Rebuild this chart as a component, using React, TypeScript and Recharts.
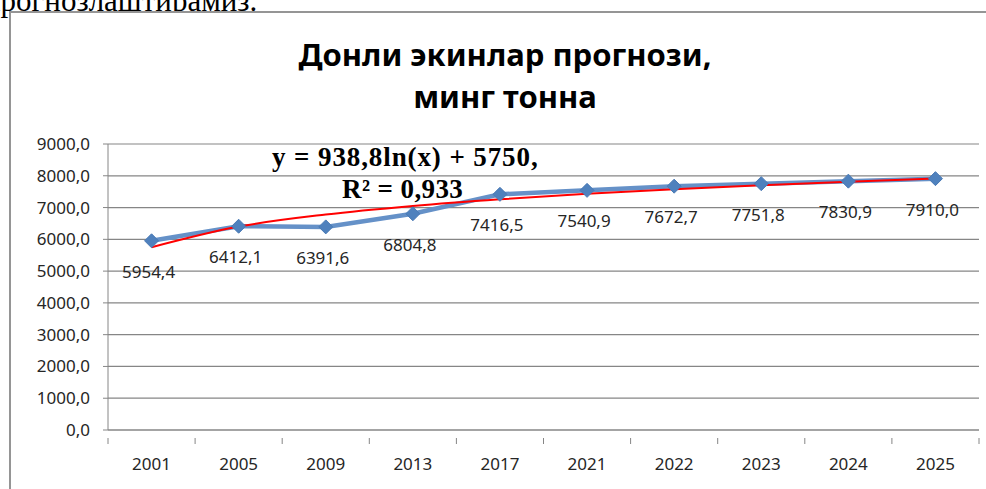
import React from 'react';
import { LineChart, Line, XAxis, YAxis, CartesianGrid, LabelList } from 'recharts';

const years = ['2001', '2005', '2009', '2013', '2017', '2021', '2022', '2023', '2024', '2025'];
const harvest = [5954.4, 6412.1, 6391.6, 6804.8, 7416.5, 7540.9, 7672.7, 7751.8, 7830.9, 7910.0];
// logarithmic trendline (y = 938,8ln(x) + 5750)
const trend = [5750, 6401, 6781, 7051, 7261, 7432, 7577, 7702, 7813, 7912];
const yTicks = [0, 1000, 2000, 3000, 4000, 5000, 6000, 7000, 8000, 9000];

const data = years.map((year, i) => ({ year, harvest: harvest[i], trend: trend[i] }));

const W = 986;
const H = 489;
const PLOT_LEFT = 108;
const PLOT_RIGHT = 979;
const BAND = (PLOT_RIGHT - PLOT_LEFT) / years.length;
const GRAY = '#868686';
const BLUE = '#4F81BD';
const FONT = '"Noto Sans", sans-serif';

const fmt = (v: number) => v.toFixed(1).replace('.', ',');

const Diamond = (props: any) => {
  const { cx, cy } = props;
  if (cx == null || cy == null) return null;
  const r = 7;
  return (
    <path
      d={`M${cx},${cy - r} L${cx + r},${cy} L${cx},${cy + r} L${cx - r},${cy} Z`}
      fill={BLUE}
      stroke="#4A7AB5"
      strokeWidth={1}
    />
  );
};

const XTick = (props: any) => {
  const { x, y, payload, index } = props;
  const last = index === years.length - 1;
  return (
    <g>
      <line x1={x - BAND / 2} y1={y} x2={x - BAND / 2} y2={y + 6} stroke={GRAY} />
      {last && <line x1={x + BAND / 2} y1={y} x2={x + BAND / 2} y2={y + 6} stroke={GRAY} />}
      <text x={x} y={y + 32} textAnchor="middle" fontSize={17} fontFamily={FONT} fill="#262626">
        {payload.value}
      </text>
    </g>
  );
};

const ValueLabel = (props: any) => {
  const { x, y, value } = props;
  return (
    <text x={x - 3} y={y + 37} textAnchor="middle" fontSize={17} fontFamily={FONT} fill="#262626">
      {fmt(value)}
    </text>
  );
};

export default function App() {
  return (
    <div style={{ position: 'absolute', left: 0, top: 0, width: W, height: H, overflow: 'hidden', background: '#fff' }}>
      <div
        style={{
          position: 'absolute',
          left: -16,
          top: -15,
          fontFamily: '"Liberation Serif", serif',
          fontSize: 31,
          lineHeight: '31px',
          whiteSpace: 'nowrap',
          color: '#000',
        }}
      >
        прогнозлаштирамиз.
      </div>
      <div
        style={{
          position: 'absolute',
          left: 9,
          top: 11,
          width: 1000,
          height: 500,
          border: '2px solid #959595',
          boxSizing: 'border-box',
          background: '#fff',
        }}
      />
      <div
        style={{
          position: 'absolute',
          left: 0,
          width: 1010,
          top: 33,
          textAlign: 'center',
          fontFamily: FONT,
          fontWeight: 700,
          fontSize: 31,
          lineHeight: '42px',
          color: '#000',
        }}
      >
        Донли экинлар прогнози,
        <br />
        минг тонна
      </div>
      <div style={{ position: 'absolute', left: 0, top: 0 }}>
        <LineChart width={W} height={H} data={data} margin={{ top: 144, right: W - PLOT_RIGHT, bottom: 29, left: 8 }}>
          <CartesianGrid vertical={false} stroke={GRAY} strokeWidth={1.2} />
          <XAxis
            dataKey="year"
            axisLine={{ stroke: GRAY }}
            tickLine={false}
            tick={<XTick />}
            height={30}
            interval={0}
            padding={{ left: BAND / 2, right: BAND / 2 }}
          />
          <YAxis
            width={100}
            domain={[0, 9000]}
            ticks={yTicks}
            interval={0}
            tickFormatter={fmt}
            axisLine={{ stroke: GRAY }}
            tickLine={{ stroke: GRAY }}
            tickSize={5}
            tickMargin={13}
            tick={{ fontSize: 17, fontFamily: FONT, fill: '#262626' }}
          />
          <Line
            dataKey="harvest"
            stroke="#6591C8"
            strokeWidth={4.5}
            dot={<Diamond />}
            isAnimationActive={false}
          >
            <LabelList dataKey="harvest" content={<ValueLabel />} />
          </Line>
          <Line
            dataKey="trend"
            type="monotone"
            stroke="#FF0000"
            strokeWidth={2}
            dot={false}
            isAnimationActive={false}
          />
        </LineChart>
      </div>
      <div
        style={{
          position: 'absolute',
          left: 272,
          top: 141,
          fontFamily: '"Liberation Serif", serif',
          fontWeight: 700,
          fontSize: 27,
          lineHeight: '32px',
          whiteSpace: 'nowrap',
          color: '#000',
        }}
      >
        <span style={{ letterSpacing: 0.9 }}>y = 938,8ln(x) + 5750,</span>
        <br />
        <span style={{ marginLeft: 70, letterSpacing: 0.4 }}>R² = 0,933</span>
      </div>
    </div>
  );
}
